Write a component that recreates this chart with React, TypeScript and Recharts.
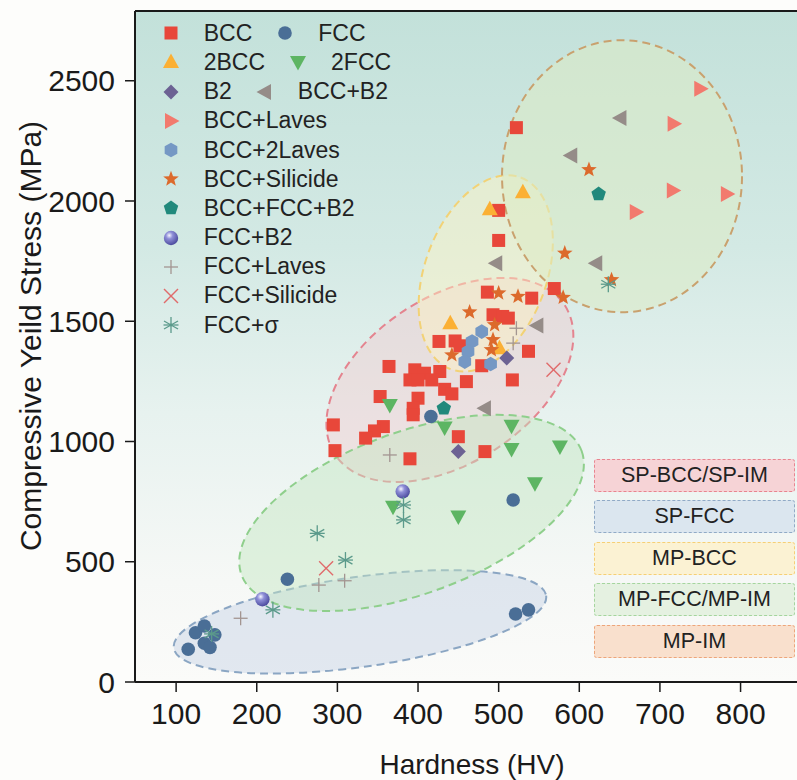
import React from 'react';
import { ScatterChart, Scatter, XAxis, YAxis, ReferenceLine, Legend } from 'recharts';

const W = 797;
const H = 780;
const FONT = '"Liberation Sans", Arial, Helvetica, sans-serif';
const INK = '#1a1a1a';

const xTicks = [100, 200, 300, 400, 500, 600, 700, 800];
const yTicks = [0, 500, 1000, 1500, 2000, 2500];

// hardness (HV), compressive yield stress (MPa)
const bcc = [
  [522, 2305], [500, 1961], [500, 1836], [569, 1636], [486, 1621], [541, 1596], [493, 1527], [505, 1520],
  [512, 1513], [537, 1375], [517, 1256], [426, 1416], [446, 1418], [452, 1398], [479, 1315], [364, 1312],
  [396, 1298], [408, 1284], [427, 1291], [390, 1256], [400, 1256], [417, 1256], [460, 1249], [353, 1187],
  [433, 1217], [442, 1198], [400, 1180], [394, 1138], [394, 1111], [295, 1069], [357, 1062], [346, 1044],
  [335, 1014], [297, 962], [450, 1020], [390, 928], [483, 958],
];
const fcc = [[124, 205], [135, 233], [148, 196], [135, 161], [142, 144], [115, 136], [238, 427], [416, 1104], [518, 757], [521, 283], [537, 300]];
const bcc2 = [[530, 2036], [489, 1966], [440, 1492], [501, 1388]];
const fcc2 = [[365, 1152], [433, 1058], [516, 1065], [516, 969], [576, 979], [545, 826], [450, 688], [369, 729]];
const b2 = [[510, 1347], [450, 958]];
const bccB2 = [[651, 2345], [590, 2189], [621, 1741], [497, 1741], [548, 1482], [483, 1138]];
const bccLaves = [[750, 2467], [717, 2321], [716, 2044], [783, 2029], [670, 1954]];
const bcc2Laves = [[479, 1457], [467, 1416], [462, 1374], [458, 1332], [490, 1322]];
const bccSilicide = [[612, 2130], [582, 1783], [640, 1672], [580, 1599], [500, 1617], [524, 1603], [464, 1538], [495, 1485], [493, 1423], [491, 1381], [442, 1360]];
const bccFccB2 = [[624, 2029], [432, 1138]];
const fccB2 = [[381, 792], [207, 344]];
const fccLaves = [[522, 1471], [518, 1409], [365, 944], [277, 403], [309, 421], [180, 265]];
const fccSilicide = [[568, 1298], [286, 473]];
const fccSigma = [[636, 1654], [382, 736], [382, 674], [275, 618], [310, 507], [220, 300], [144, 200]];

// zone ellipse centres (HV, MPa)
const zoneCenters = [[439.5, 1256], [328, 250], [392, 703], [484, 1699], [653, 2103]];
const zoneStyles = [
  { rx: 137, ry: 83, rot: -33, fill: '#f0c8cc', op: 0.42, stroke: '#e4848f' },
  { rx: 188, ry: 45, rot: -8, fill: '#c4d0e4', op: 0.45, stroke: '#8ba6c3' },
  { rx: 181, ry: 81, rot: -20, fill: '#c4e6c0', op: 0.45, stroke: '#8fcf8c' },
  { rx: 102, ry: 61, rot: -70, fill: '#fff3c0', op: 0.45, stroke: '#f2d276' },
  { rx: 120, ry: 136, rot: 0, fill: '#dcebc4', op: 0.55, stroke: '#c9a16e' },
];

const zoneLabels = ['SP-BCC/SP-IM', 'SP-FCC', 'MP-BCC', 'MP-FCC/MP-IM', 'MP-IM'];
const zoneBoxStyles = [
  { top: 459, fill: '#f6d3d6', stroke: '#e8848f' },
  { top: 500, fill: '#dbe6ef', stroke: '#90aac6' },
  { top: 541.5, fill: '#fbf2d3', stroke: '#f6cf75' },
  { top: 582.5, fill: '#e5f1e1', stroke: '#a5d59e' },
  { top: 624.5, fill: '#f9e0cd', stroke: '#eda57a' },
];

const series = [
  { name: 'BCC', data: bcc, kind: 'square', color: '#e8473a' },
  { name: 'FCC', data: fcc, kind: 'circle', color: '#4a6e96' },
  { name: '2BCC', data: bcc2, kind: 'triUp', color: '#fbb034' },
  { name: '2FCC', data: fcc2, kind: 'triDown', color: '#5db563' },
  { name: 'B2', data: b2, kind: 'diamond', color: '#6c6293' },
  { name: 'BCC+B2', data: bccB2, kind: 'triLeft', color: '#958c88' },
  { name: 'BCC+Laves', data: bccLaves, kind: 'triRight', color: '#f27a6e' },
  { name: 'BCC+2Laves', data: bcc2Laves, kind: 'hexagon', color: '#7598c4' },
  { name: 'BCC+Silicide', data: bccSilicide, kind: 'star', color: '#dc6a2c' },
  { name: 'BCC+FCC+B2', data: bccFccB2, kind: 'pentagon', color: '#21897c' },
  { name: 'FCC+B2', data: fccB2, kind: 'sphere', color: '#6b6cc0' },
  { name: 'FCC+Laves', data: fccLaves, kind: 'plus', color: '#a39591' },
  { name: 'FCC+Silicide', data: fccSilicide, kind: 'cross', color: '#e06b6b' },
  { name: 'FCC+σ', data: fccSigma, kind: 'asterisk', color: '#5b9a8b' },
];

const legendRows = [
  ['BCC', 'FCC'], ['2BCC', '2FCC'], ['B2', 'BCC+B2'], ['BCC+Laves'], ['BCC+2Laves'], ['BCC+Silicide'],
  ['BCC+FCC+B2'], ['FCC+B2'], ['FCC+Laves'], ['FCC+Silicide'], ['FCC+σ'],
];

const toPoints = (arr: number[][]) => arr.map(([x, y]) => ({ x, y }));

const pts = (cx: number, cy: number, list: number[][]) => list.map(([dx, dy]) => `${cx + dx},${cy + dy}`).join(' ');

function regular(cx: number, cy: number, n: number, r: number, start: number) {
  const out: number[][] = [];
  for (let i = 0; i < n; i++) {
    const a = ((start + (360 / n) * i) * Math.PI) / 180;
    out.push([r * Math.cos(a), r * Math.sin(a)]);
  }
  return pts(cx, cy, out);
}

function starPts(cx: number, cy: number, r: number) {
  const out: number[][] = [];
  for (let i = 0; i < 10; i++) {
    const rr = i % 2 === 0 ? r : r * 0.42;
    const a = ((-90 + 36 * i) * Math.PI) / 180;
    out.push([rr * Math.cos(a), rr * Math.sin(a)]);
  }
  return pts(cx, cy, out);
}

let sphereId = 0;

function Marker({ kind, color, cx, cy }: { kind: string; color: string; cx: number; cy: number }) {
  switch (kind) {
    case 'square':
      return <rect x={cx - 6.5} y={cy - 6.5} width={13} height={13} fill={color} />;
    case 'circle':
      return <circle cx={cx} cy={cy} r={6.8} fill={color} />;
    case 'triUp':
      return <polygon points={pts(cx, cy, [[0, -8.5], [8, 6], [-8, 6]])} fill={color} />;
    case 'triDown':
      return <polygon points={pts(cx, cy, [[0, 8.5], [8, -6], [-8, -6]])} fill={color} />;
    case 'triLeft':
      return <polygon points={pts(cx, cy, [[-8.5, 0], [6, -8], [6, 8]])} fill={color} />;
    case 'triRight':
      return <polygon points={pts(cx, cy, [[8.5, 0], [-6, -8], [-6, 8]])} fill={color} />;
    case 'diamond':
      return <polygon points={pts(cx, cy, [[0, -7.5], [7.5, 0], [0, 7.5], [-7.5, 0]])} fill={color} />;
    case 'hexagon':
      return <polygon points={regular(cx, cy, 6, 7.3, -90)} fill={color} />;
    case 'pentagon':
      return <polygon points={regular(cx, cy, 5, 7.6, -90)} fill={color} />;
    case 'star':
      return <polygon points={starPts(cx, cy, 8.2)} fill={color} />;
    case 'sphere': {
      const id = `sph${sphereId++}`;
      return (
        <g>
          <defs>
            <radialGradient id={id} cx="38%" cy="32%" r="68%">
              <stop offset="0%" stopColor="#f6f6ff" />
              <stop offset="35%" stopColor="#8f8fd8" />
              <stop offset="100%" stopColor="#4c4b9e" />
            </radialGradient>
          </defs>
          <circle cx={cx} cy={cy} r={7.2} fill={`url(#${id})`} />
        </g>
      );
    }
    case 'plus':
      return (
        <g stroke={color} strokeWidth={1.3}>
          <line x1={cx - 7} y1={cy} x2={cx + 7} y2={cy} />
          <line x1={cx} y1={cy - 7} x2={cx} y2={cy + 7} />
        </g>
      );
    case 'cross':
      return (
        <g stroke={color} strokeWidth={1.4}>
          <line x1={cx - 7} y1={cy - 7} x2={cx + 7} y2={cy + 7} />
          <line x1={cx - 7} y1={cy + 7} x2={cx + 7} y2={cy - 7} />
        </g>
      );
    case 'asterisk':
      return (
        <g stroke={color} strokeWidth={1.3}>
          <line x1={cx} y1={cy - 8} x2={cx} y2={cy + 8} />
          <line x1={cx - 7} y1={cy - 4} x2={cx + 7} y2={cy + 4} />
          <line x1={cx - 7} y1={cy + 4} x2={cx + 7} y2={cy - 4} />
          <line x1={cx - 7.5} y1={cy} x2={cx + 7.5} y2={cy} />
          <circle cx={cx} cy={cy} r={1.4} fill={color} stroke="none" />
        </g>
      );
    default:
      return null;
  }
}

function LegendBox() {
  const byName: Record<string, (typeof series)[number]> = {};
  series.forEach((s) => (byName[s.name] = s));
  return (
    <div style={{ fontFamily: FONT, fontSize: 23, color: '#222' }}>
      {legendRows.map((row, i) => (
        <div key={i} style={{ display: 'flex', alignItems: 'center', height: 29.2 }}>
          {row.map((name) => {
            const s = byName[name];
            return (
              <div key={name} style={{ display: 'flex', alignItems: 'center', marginRight: 21 }}>
                <svg width={24} height={24} style={{ marginRight: 21 }}>
                  <Marker kind={s.kind} color={s.color} cx={12} cy={12} />
                </svg>
                <span style={{ lineHeight: '29px', whiteSpace: 'nowrap' }}>{name}</span>
              </div>
            );
          })}
        </div>
      ))}
    </div>
  );
}

export default function App() {
  const tickStyle = { fontSize: 30, fill: INK, fontFamily: FONT };
  return (
    <div style={{ position: 'absolute', left: 0, top: 0, width: W, height: H, background: '#fdfdfb', overflow: 'hidden', fontFamily: FONT }}>
      <div
        style={{
          position: 'absolute', left: 135, top: 11, width: 662, height: 671,
          background: 'linear-gradient(#c3e1da 0%, #d3e9e4 35%, #e7f2ef 60%, #f6f8f6 85%, #fbfbf9 100%)',
        }}
      />
      <div style={{ position: 'absolute', left: 0, top: 0 }}>
        <ScatterChart width={W} height={H} margin={{ top: 11, right: 0, bottom: 0, left: 0 }}>
          <XAxis
            type="number" dataKey="x" domain={[49, 870]} ticks={xTicks} interval={0} height={98}
            tickSize={10} tickMargin={11} tick={tickStyle} allowDataOverflow
            axisLine={{ stroke: INK, strokeWidth: 2 }} tickLine={{ stroke: INK, strokeWidth: 1.5 }}
          />
          <YAxis
            type="number" dataKey="y" domain={[0, 2790]} ticks={yTicks} interval={0} width={135}
            tickSize={10} tickMargin={10} tick={tickStyle} allowDataOverflow
            axisLine={{ stroke: INK, strokeWidth: 2 }} tickLine={{ stroke: INK, strokeWidth: 1.5 }}
          />
          <ReferenceLine y={2790} stroke={INK} strokeWidth={2} />
          {zoneCenters.map((c, i) => {
            const z = zoneStyles[i];
            return (
              <Scatter
                key={`zone${i}`}
                data={toPoints([c])}
                isAnimationActive={false}
                legendType="none"
                shape={(p: any) => (
                  <ellipse
                    cx={p.cx} cy={p.cy} rx={z.rx} ry={z.ry}
                    transform={`rotate(${z.rot} ${p.cx} ${p.cy})`}
                    fill={z.fill} fillOpacity={z.op}
                    stroke={z.stroke} strokeWidth={2} strokeDasharray="8 5"
                  />
                )}
              />
            );
          })}
          {series.map((s) => (
            <Scatter
              key={s.name}
              name={s.name}
              data={toPoints(s.data)}
              isAnimationActive={false}
              shape={(p: any) => <Marker kind={s.kind} color={s.color} cx={p.cx} cy={p.cy} />}
            />
          ))}
          <Legend
            layout="horizontal" verticalAlign="middle" align="center"
            wrapperStyle={{ left: 158.7, top: 18.7, width: 280, height: 322 }}
            content={() => <LegendBox />}
          />
        </ScatterChart>
      </div>
      {zoneLabels.map((label, i) => {
        const b = zoneBoxStyles[i];
        return (
          <div
            key={label}
            style={{
              position: 'absolute', left: 594, top: b.top, width: 201, height: 33, boxSizing: 'border-box',
              background: b.fill, border: `1.5px dashed ${b.stroke}`, borderRadius: 3,
              fontSize: 21.5, color: '#222', textAlign: 'center', lineHeight: '30px',
            }}
          >
            {label}
          </div>
        );
      })}
      <div
        style={{
          position: 'absolute', left: 31 - 260, top: 335.5 - 18, width: 520, height: 36, lineHeight: '36px',
          fontSize: 30, color: INK, textAlign: 'center', transform: 'rotate(-90deg)', whiteSpace: 'nowrap',
        }}
      >
        Compressive Yeild Stress (MPa)
      </div>
      <div
        style={{
          position: 'absolute', left: 272, top: 748, width: 400, height: 34, lineHeight: '34px',
          fontSize: 28, color: INK, textAlign: 'center', whiteSpace: 'nowrap',
        }}
      >
        Hardness (HV)
      </div>
    </div>
  );
}
